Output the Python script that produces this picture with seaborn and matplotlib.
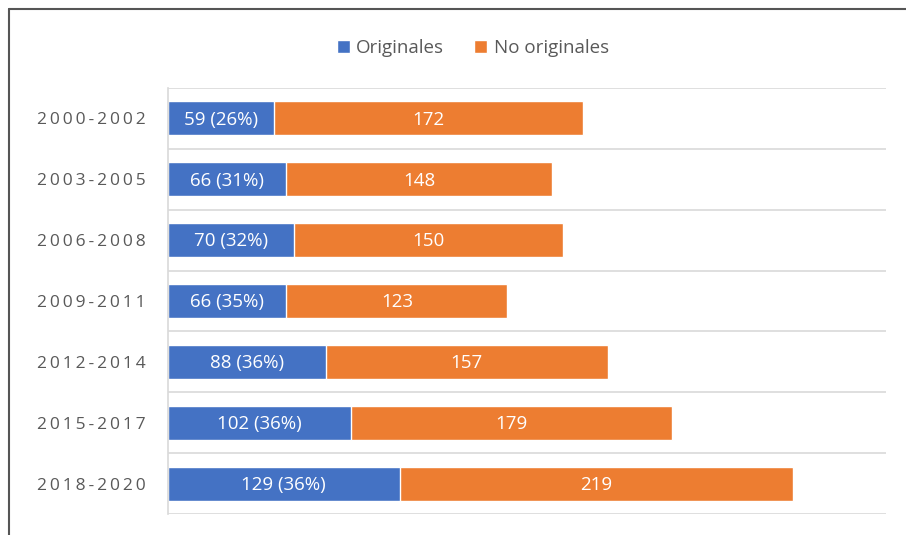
import matplotlib
matplotlib.use("Agg")
import matplotlib.pyplot as plt
import seaborn as sns
import pandas as pd

# data
periods = ["2000-2002", "2003-2005", "2006-2008", "2009-2011",
           "2012-2014", "2015-2017", "2018-2020"]
originales = [59, 66, 70, 66, 88, 102, 129]
no_originales = [172, 148, 150, 123, 157, 179, 219]
pct_originales = [26, 31, 32, 35, 36, 36, 36]

BLUE = "#4472C4"
ORANGE = "#ED7D31"

sns.set_theme(style="white")
plt.rcParams["font.family"] = ["Open Sans", "DejaVu Sans"]

df = pd.DataFrame({
    "periodo": periods,
    "orig": originales,
    "no_orig": no_originales,
})
df["total"] = df["orig"] + df["no_orig"]

fig = plt.figure(figsize=(9.06, 5.35), dpi=100)
ax = fig.add_axes([168 / 906, 1 - 514 / 535, (886 - 168) / 906, (514 - 88) / 535])

# stacked: totals in orange, originals drawn on top in blue
sns.barplot(data=df, y="periodo", x="total", color=ORANGE, orient="h",
            width=0.56, saturation=1, ax=ax, label="No originales")
sns.barplot(data=df, y="periodo", x="orig", color=BLUE, orient="h",
            width=0.56, saturation=1, ax=ax, label="Originales")
handles, labels = ax.get_legend_handles_labels()
if ax.get_legend() is not None:
    ax.get_legend().remove()

for i, (o, n, p) in enumerate(zip(originales, no_originales, pct_originales)):
    ax.text(o / 2, i + 0.02, f"{o} ({p}%)", ha="center", va="center",
            color="white", fontsize=13.5)
    ax.text(o + n / 2, i + 0.02, f"{n}", ha="center", va="center",
            color="white", fontsize=13.5)

ax.set_xlim(0, 400)
ax.set_ylim(6.5, -0.5)
for yb in [k - 0.5 for k in range(len(periods) + 1)]:
    ax.axhline(yb, color="#D9D9D9", lw=1.2, zorder=0)

ax.set_xlabel("")
ax.set_ylabel("")
ax.set_xticks([])
spaced = ["\u2009".join(p) for p in periods]
ax.set_yticks(range(len(periods)))
ax.set_yticklabels(spaced, color="#595959", fontsize=12.5)
ax.tick_params(axis="y", length=0, pad=16)
for side in ["top", "right", "bottom"]:
    ax.spines[side].set_visible(False)
ax.spines["left"].set_color("#D9D9D9")
ax.spines["left"].set_linewidth(1.2)

order = [labels.index("Originales"), labels.index("No originales")]
fig.legend([handles[k] for k in order], [labels[k] for k in order],
           loc="center", bbox_to_anchor=(0.522, 1 - 48 / 535), ncol=2,
           frameon=False, fontsize=13.5, labelcolor="#595959",
           handlelength=0.7, handleheight=0.7, handletextpad=0.35,
           columnspacing=1.6)

# frame around the figure (left and top edges are visible in the crop)
fig.add_artist(plt.Line2D([9 / 906, 9 / 906], [0, 1 - 9 / 535],
                          transform=fig.transFigure, color="#555555", lw=1.5))
fig.add_artist(plt.Line2D([9 / 906, 1], [1 - 9 / 535, 1 - 9 / 535],
                          transform=fig.transFigure, color="#555555", lw=1.5))

fig.savefig("out.png", dpi=100)
